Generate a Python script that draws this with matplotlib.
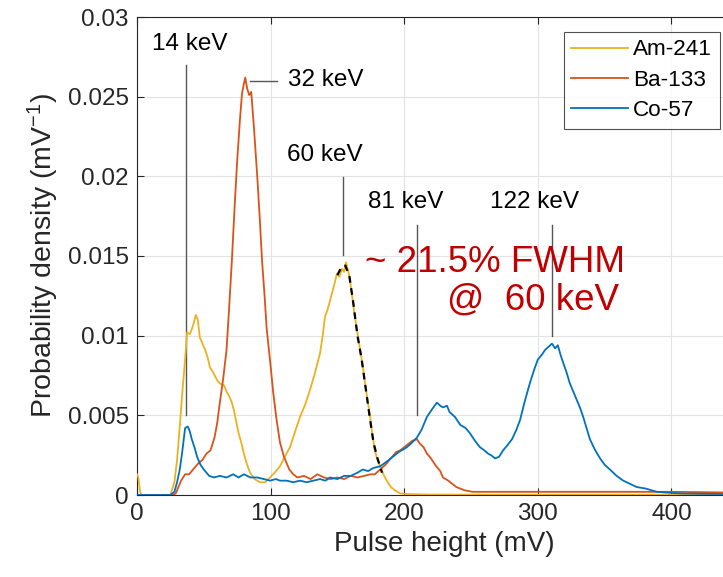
import matplotlib
matplotlib.use('Agg')
import matplotlib.pyplot as plt
import numpy as np

plt.rcParams['font.family'] = ['Liberation Sans', 'DejaVu Sans']
plt.rcParams['mathtext.fontset'] = 'custom'
plt.rcParams['mathtext.rm'] = 'Liberation Sans'
plt.rcParams['mathtext.it'] = 'Liberation Sans:italic'

# pulse height spectra (mV) and probability density (1/mV)
am_x = [0, 1, 2, 3, 25, 28, 30, 32, 34, 36, 37.5, 39.5, 41, 42.5, 44, 45.5, 47, 49, 51, 53,
        54.6, 57, 60, 62, 65, 67, 69, 71, 72.6, 74, 76, 78, 80, 82, 84.6, 88, 92, 96, 99.5, 103,
        107, 110, 114.5, 118, 122, 126, 129.5, 133, 137, 139, 140.7, 142.5, 144.5, 147, 149.7, 151.5, 153.4, 155, 156.4, 158,
        159.4, 161, 163, 165, 167, 169, 170.7, 172.5, 174.5, 176, 178, 180, 182, 185, 187, 190, 193, 197, 202, 220,
        260, 300, 350, 400, 450, 500]
am_y = [0.0013, 0.0011, 0.0004, 0, 0, 0.0008, 0.0022, 0.0043, 0.0065, 0.0085, 0.0102, 0.0101, 0.0104, 0.0108, 0.0113, 0.0110, 0.0099, 0.0095, 0.0091, 0.0086,
        0.0080, 0.0077, 0.0072, 0.0070, 0.0069, 0.0065, 0.0062, 0.0058, 0.0053, 0.0047, 0.0039, 0.0033, 0.0026, 0.0020, 0.0014, 0.0010, 0.0008, 0.0008, 0.0011, 0.0014,
        0.0018, 0.0023, 0.0030, 0.0039, 0.0049, 0.0057, 0.0066, 0.0076, 0.0089, 0.0100, 0.0112, 0.0116, 0.0122, 0.0130, 0.0139, 0.0137, 0.0142, 0.0140, 0.0146, 0.0141,
        0.0135, 0.0125, 0.0112, 0.0102, 0.0091, 0.0081, 0.0070, 0.0060, 0.0049, 0.0039, 0.0028, 0.0022, 0.0018, 0.0012, 0.0009, 0.0005, 0.0003, 0.0001, 0.00006, 0.00003,
        0.00002, 0.00002, 0.00002, 0.00002, 0.00002, 0.00002]

ba_x = [0, 27, 29, 31, 33, 36, 39, 42, 46, 49, 52, 55, 58, 60, 62, 64.5, 67, 69, 71, 73,
        75, 77, 78.6, 80, 81, 82.5, 84, 85.5, 87.5, 90, 92, 93.6, 95.5, 97, 99.5, 102, 104.5, 107, 110, 112,
        114, 117, 120, 125, 130, 135, 140, 145, 150, 155, 160, 165, 170, 175, 178, 182, 186, 190, 194, 197,
        200, 203, 206, 209.5, 212, 214.5, 217, 220, 224, 227, 229, 233, 236, 239, 245, 251, 260, 300, 350, 400,
        450, 500]
ba_y = [0, 0, 0.0001, 0.0005, 0.0009, 0.0013, 0.0013, 0.0016, 0.0020, 0.0022, 0.0026, 0.0028, 0.0036, 0.0045, 0.0058, 0.0073, 0.0091, 0.0118, 0.0147, 0.0180,
        0.0210, 0.0235, 0.0252, 0.0258, 0.0262, 0.0255, 0.0251, 0.0253, 0.0231, 0.0200, 0.0172, 0.0147, 0.0125, 0.0105, 0.0085, 0.0064, 0.0047, 0.0033, 0.0024, 0.0020,
        0.0016, 0.0013, 0.0011, 0.0012, 0.0010, 0.0013, 0.0011, 0.0010, 0.0011, 0.0010, 0.0012, 0.0011, 0.0012, 0.0013, 0.0013, 0.0016, 0.0019, 0.0023, 0.0027, 0.0028,
        0.0030, 0.0032, 0.0034, 0.0035, 0.0032, 0.0030, 0.0026, 0.0023, 0.0018, 0.0015, 0.0011, 0.0009, 0.0007, 0.0005, 0.0003, 0.0002, 0.0002, 0.0002, 0.0002, 0.0002,
        0.00015, 0.00015]

co_x = [0, 25, 28, 30, 32, 33.7, 35, 36, 38, 39.5, 41, 43, 45, 47.5, 50, 54, 57.6, 62, 67, 72,
        76, 80, 85, 90, 95, 99.5, 104, 107, 112, 117, 122, 127, 132, 137, 141, 144.5, 150, 155, 160, 165,
        169, 173, 177, 182, 187, 191.5, 196, 202, 206, 209.5, 213, 217, 221, 224.5, 227, 229, 232, 234, 238, 242,
        246, 249, 253, 256.7, 260, 262.7, 265, 268, 271, 274, 277, 280.7, 284, 286.7, 290, 294, 297, 300, 303, 305.4,
        308, 310.6, 313, 315, 317, 319, 321.5, 324, 326.5, 329, 331.5, 334, 336.5, 339, 343, 346.6, 350, 354, 359, 364,
        369, 374, 381, 389, 397, 406, 420, 440, 470, 500]
co_y = [0, 0, 0.0002, 0.0008, 0.0016, 0.0026, 0.0035, 0.0042, 0.0043, 0.0040, 0.0035, 0.0030, 0.0024, 0.0019, 0.0016, 0.0012, 0.0011, 0.0012, 0.0011, 0.0013,
        0.0011, 0.0013, 0.0011, 0.0011, 0.0010, 0.0009, 0.0010, 0.0009, 0.0009, 0.0008, 0.0009, 0.0008, 0.0009, 0.0010, 0.0009, 0.0011, 0.0010, 0.0012, 0.0012, 0.0014,
        0.0016, 0.0015, 0.0017, 0.0018, 0.0021, 0.0024, 0.0027, 0.0030, 0.0033, 0.0036, 0.0041, 0.0049, 0.0054, 0.0058, 0.0056, 0.0055, 0.0056, 0.0052, 0.0049, 0.0044,
        0.0042, 0.0039, 0.0034, 0.0030, 0.0028, 0.0026, 0.0025, 0.0023, 0.0024, 0.0028, 0.0031, 0.0035, 0.0041, 0.0047, 0.0058, 0.0070, 0.0078, 0.0085, 0.0088, 0.0091,
        0.0093, 0.0095, 0.0092, 0.0094, 0.0088, 0.0083, 0.0077, 0.0070, 0.0065, 0.0060, 0.0055, 0.0049, 0.0042, 0.0035, 0.0028, 0.0023, 0.0019, 0.0016, 0.0012, 0.0009,
        0.0007, 0.0005, 0.0004, 0.0002, 0.00015, 0.0001, 0.00008, 0.00006, 0.00005, 0.00005]

# gaussian fit on the falling edge of the 60 keV peak
fit_x = [150, 153, 156, 159, 162, 165, 168, 171, 174, 177, 180, 183.4]
fit_y = [0.0138, 0.0143, 0.0144, 0.0137, 0.0120, 0.0100, 0.0086, 0.0068, 0.0050, 0.0033, 0.0023, 0.0014]

# line labels: text, text position, marker segment
peak_labels = [
    ('14 keV', (11.2, 0.0283), [(36.5, 36.5), (0.0050, 0.0270)]),
    ('32 keV', (113, 0.02605), [(84.6, 104.8), (0.02598, 0.02598)]),
    ('60 keV', (112.3, 0.02134), [(154, 154), (0.01506, 0.01996)]),
    ('81 keV', (173, 0.01839), [(209.5, 209.5), (0.0050, 0.01695)]),
    ('122 keV', (264, 0.01839), [(310.6, 310.6), (0.0100, 0.01695)]),
]

yticks = [0, 0.005, 0.01, 0.015, 0.02, 0.025, 0.03]
ytick_labels = ['0', '0.005', '0.01', '0.015', '0.02', '0.025', '0.03']
xticks = [0, 100, 200, 300, 400]

fig = plt.figure(figsize=(7.23, 5.77), dpi=100)
# axes run past the right edge of the figure
ax = fig.add_axes([137 / 723, 82 / 577, 460 * 1.336 / 723, 478 / 577])

ax.plot(am_x, am_y, color='#EDB120', lw=1.3, label='Am-241', zorder=3)
ax.plot(ba_x, ba_y, color='#D95319', lw=1.3, label='Ba-133', zorder=3)
ax.plot(co_x, co_y, color='#0072BD', lw=1.3, label='Co-57', zorder=3)
ax.plot(fit_x, fit_y, color='black', lw=1.6, ls=(0, (3, 2.5)), zorder=4)

for text, (tx, ty), (lx, ly) in peak_labels:
    ax.plot(lx, ly, color='#555555', lw=1.0, zorder=2)
    ax.text(tx, ty, text, fontsize=17.5, ha='left', va='center', color='black')

ax.text(170.7, 0.01462, '~ 21.5% FWHM', fontsize=26.5, color='#C00000', ha='left', va='center')
ax.text(232, 0.01224, '@  60 keV', fontsize=26.5, color='#C00000', ha='left', va='center')

ax.set_xlim(0, 460)
ax.set_ylim(0, 0.03)
ax.set_xticks(xticks)
ax.set_yticks(yticks)
ax.set_yticklabels(ytick_labels)
ax.grid(True, color='#e3e3e3', lw=0.8, zorder=0)
ax.set_axisbelow(True)
ax.tick_params(direction='in', length=5, width=0.8, labelsize=17.5, colors='#262626',
               top=True, right=True, pad=6)
for side in ['left', 'bottom', 'top', 'right']:
    ax.spines[side].set_color('#262626')
    ax.spines[side].set_linewidth(0.8)

ax.set_xlabel('Pulse height (mV)', fontsize=20, color='#262626', labelpad=4)
ax.set_ylabel('Probability density (mV$^{-1}$)', fontsize=20.5, color='#262626', labelpad=5)

leg = ax.legend(loc='upper left', bbox_to_anchor=(564 / 723, 1 - 32 / 577),
                bbox_transform=fig.transFigure, fontsize=16.2, frameon=True, fancybox=False,
                handlelength=2.5, handletextpad=0.25, labelspacing=0.42, borderpad=0.33,
                borderaxespad=0)
leg.get_frame().set_edgecolor('#262626')
leg.get_frame().set_linewidth(0.8)

fig.savefig('out.png', dpi=100)
